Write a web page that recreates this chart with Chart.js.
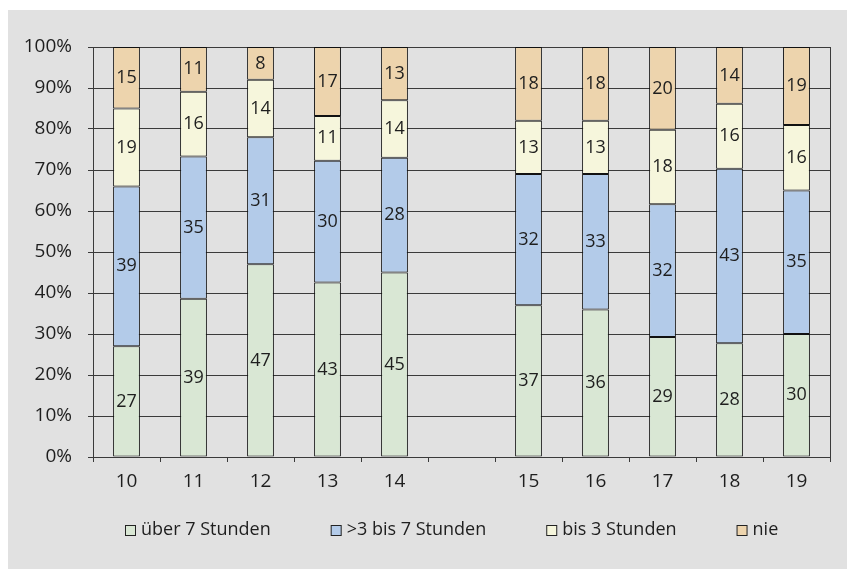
<!DOCTYPE html>
<html>
<head>
<meta charset="utf-8">
<script src="https://cdn.jsdelivr.net/npm/chart.js@4"></script>
<style>
  body { margin: 0; background: #fff; }
  #box { position: absolute; left: 8px; top: 10px; width: 839px; height: 559px; background: #e1e1e1; }
</style>
</head>
<body>
<div id="box"><canvas id="chart" width="839" height="559"></canvas></div>
<script>
// Categories (empty slot between 14 and 15)
const categories = ['10', '11', '12', '13', '14', '', '15', '16', '17', '18', '19'];

// Raw values per group (null for the empty slot)
const ueber7 = [27, 39, 47, 43, 45, null, 37, 36, 29, 28, 30];
const drei7  = [39, 35, 31, 30, 28, null, 32, 33, 32, 43, 35];
const bis3   = [19, 16, 14, 11, 14, null, 13, 13, 18, 16, 16];
const nie    = [15, 11,  8, 17, 13, null, 18, 18, 20, 14, 19];

const seriesNames = ['über 7 Stunden', '>3 bis 7 Stunden', 'bis 3 Stunden', 'nie'];
const yTicks = [0, 10, 20, 30, 40, 50, 60, 70, 80, 90, 100];

const colors = ['#d9e7d4', '#b3cbe9', '#f6f6dc', '#edd4ad'];
const raw = [ueber7, drei7, bis3, nie];

// 100% stacked: share of each column total
const totals = categories.map((c, i) => raw.reduce((s, arr) => s + (arr[i] || 0), 0));
const pct = arr => arr.map((v, i) => v == null ? null : v / totals[i] * 100);

const font = "'Open Sans', 'DejaVu Sans', sans-serif";
const textColor = '#1e1e1e';
const lineColor = '#3a3a3a';

// data labels in the middle of each segment
const labelPlugin = {
    id: 'segLabels',
    afterDatasetsDraw(chart) {
        const ctx = chart.ctx;
        ctx.save();
        ctx.font = '18px ' + font;
        ctx.fillStyle = textColor;
        ctx.textAlign = 'center';
        ctx.textBaseline = 'middle';
        chart.data.datasets.forEach((ds, di) => {
            chart.getDatasetMeta(di).data.forEach((bar, i) => {
                const v = raw[di][i];
                if (v == null) return;
                const p = bar.getProps(['x', 'y', 'base'], true);
                ctx.fillText(String(v), p.x, (p.y + p.base) / 2);
            });
        });
        ctx.restore();
    }
};

// right border of plot area + legend row
const framePlugin = {
    id: 'frame',
    afterDraw(chart) {
        const ctx = chart.ctx;
        const a = chart.chartArea;
        ctx.save();
        ctx.strokeStyle = lineColor;
        ctx.lineWidth = 1;
        ctx.beginPath();
        ctx.moveTo(Math.round(a.right) + 0.5, a.top);
        ctx.lineTo(Math.round(a.right) + 0.5, a.bottom);
        ctx.stroke();

        // legend
        ctx.font = '18px ' + font;
        ctx.textBaseline = 'middle';
        ctx.textAlign = 'left';
        const y = a.bottom + 73;
        let x = a.left + 32;
        seriesNames.forEach((name, i) => {
            ctx.fillStyle = colors[i];
            ctx.fillRect(x + 0.5, y - 4.5, 10, 10);
            ctx.strokeStyle = '#222';
            ctx.strokeRect(x + 0.5, y - 4.5, 10, 10);
            ctx.fillStyle = textColor;
            ctx.fillText(name, x + 16, y);
            x += 16 + ctx.measureText(name).width + 60;
        });
        ctx.restore();
    }
};

new Chart(document.getElementById('chart'), {
    type: 'bar',
    data: {
        labels: categories,
        datasets: raw.map((arr, i) => ({
            label: seriesNames[i],
            data: pct(arr),
            backgroundColor: colors[i],
            borderColor: '#111',
            borderWidth: 1,
            borderSkipped: false,
            categoryPercentage: 1,
            barPercentage: 0.4
        }))
    },
    options: {
        responsive: false,
        animation: false,
        layout: { padding: { top: 37, right: 17, left: 0, bottom: 0 } },
        plugins: {
            legend: { display: false },
            tooltip: { enabled: false }
        },
        scales: {
            x: {
                stacked: true,
                afterFit: s => { s.height = 112; },
                grid: { offset: true, drawOnChartArea: false, drawTicks: true, tickLength: 5, color: lineColor },
                border: { color: lineColor, width: 1 },
                ticks: { color: textColor, font: { family: font, size: 19 }, padding: 8 }
            },
            y: {
                stacked: true,
                min: 0,
                max: 100,
                afterFit: s => { s.width = 85; },
                afterBuildTicks: s => { s.ticks = yTicks.map(v => ({ value: v })); },
                grid: { color: lineColor, tickLength: 5, lineWidth: 1 },
                border: { color: lineColor, width: 1 },
                ticks: { color: textColor, font: { family: font, size: 19 }, padding: 16, callback: v => v + '%' }
            }
        }
    },
    plugins: [labelPlugin, framePlugin]
});
</script>
</body>
</html>
